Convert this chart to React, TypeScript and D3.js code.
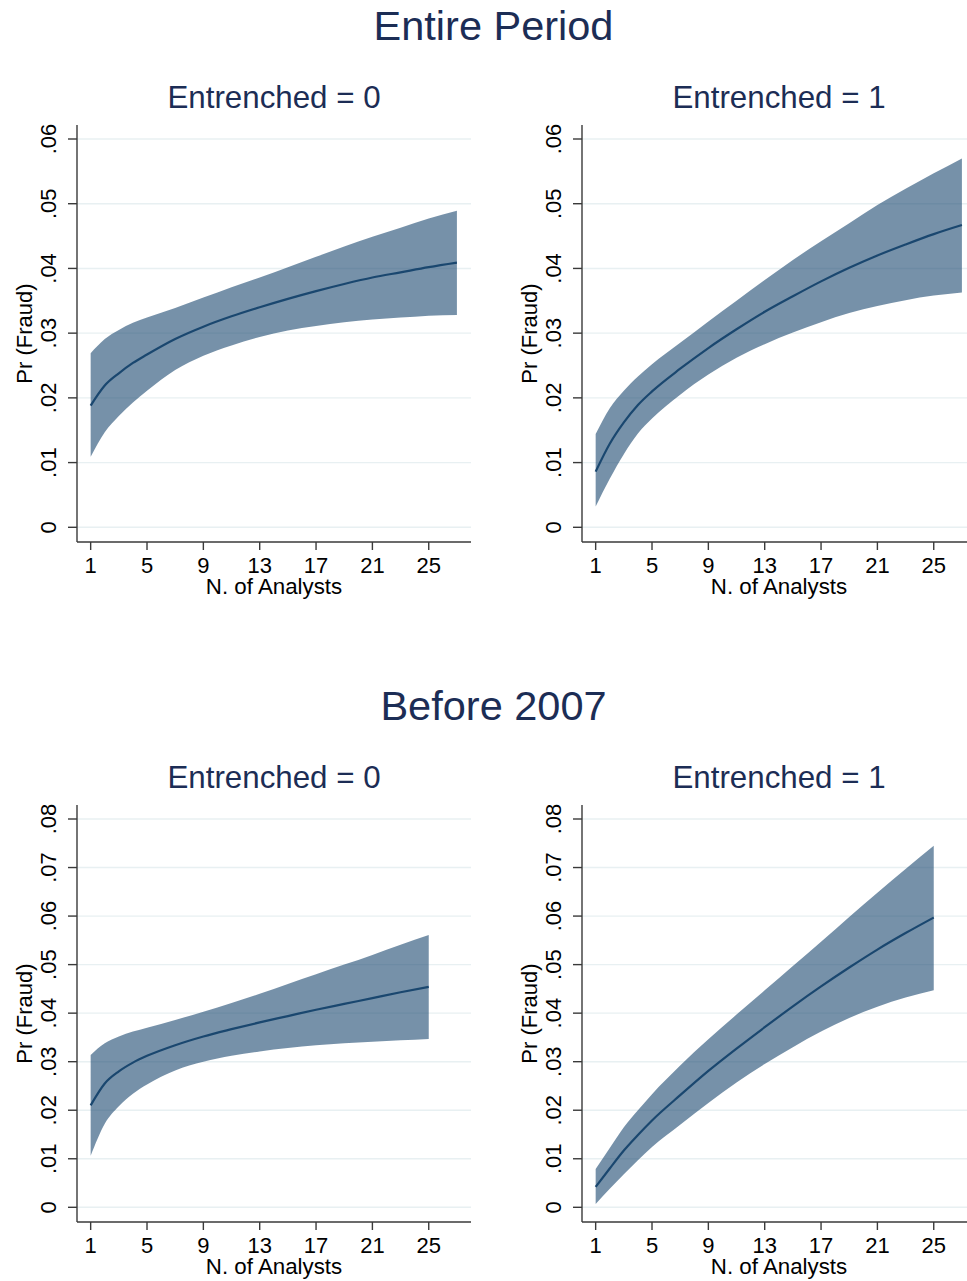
import React from 'react';
import * as d3 from 'd3';

// number of analysts (x values)
const nTop = [1, 2, 3, 4, 5, 7, 9, 11, 13, 15, 17, 19, 21, 23, 25, 27];
const nBottom = [1, 2, 3, 4, 5, 7, 9, 11, 13, 15, 17, 19, 21, 23, 25];

// Entire Period, Entrenched = 0
const allE0Mean = [0.0188, 0.0219, 0.0238, 0.0254, 0.0267, 0.0291, 0.031, 0.0326, 0.034, 0.0353, 0.0365, 0.0376, 0.0386, 0.0394, 0.0402, 0.0409];
const allE0Upper = [0.0269, 0.0291, 0.0305, 0.0316, 0.0324, 0.0339, 0.0355, 0.0371, 0.0386, 0.0402, 0.0418, 0.0434, 0.0449, 0.0463, 0.0477, 0.0489];
const allE0Lower = [0.0109, 0.0147, 0.0172, 0.0193, 0.0211, 0.0243, 0.0265, 0.0281, 0.0294, 0.0304, 0.0311, 0.0317, 0.0321, 0.0324, 0.0327, 0.0328];

// Entire Period, Entrenched = 1
const allE1Mean = [0.0086, 0.0129, 0.0162, 0.0189, 0.021, 0.0245, 0.0277, 0.0306, 0.0333, 0.0357, 0.038, 0.0401, 0.042, 0.0437, 0.0453, 0.0467];
const allE1Upper = [0.0144, 0.0184, 0.0211, 0.0233, 0.0252, 0.0285, 0.0318, 0.035, 0.0382, 0.0413, 0.0442, 0.047, 0.0498, 0.0523, 0.0547, 0.057];
const allE1Lower = [0.0032, 0.0075, 0.0113, 0.0145, 0.0168, 0.0205, 0.0236, 0.0262, 0.0283, 0.0301, 0.0317, 0.0331, 0.0342, 0.0351, 0.0358, 0.0363];

// Before 2007, Entrenched = 0
const preE0Mean = [0.021, 0.0255, 0.028, 0.0298, 0.0312, 0.0334, 0.0352, 0.0367, 0.0381, 0.0394, 0.0407, 0.0419, 0.0431, 0.0443, 0.0454];
const preE0Upper = [0.0314, 0.0338, 0.0352, 0.0362, 0.037, 0.0386, 0.0403, 0.0421, 0.044, 0.046, 0.048, 0.05, 0.052, 0.0541, 0.0561];
const preE0Lower = [0.0106, 0.0172, 0.0208, 0.0234, 0.0253, 0.0282, 0.03, 0.0312, 0.0321, 0.0328, 0.0334, 0.0338, 0.0341, 0.0344, 0.0347];

// Before 2007, Entrenched = 1
const preE1Mean = [0.0042, 0.008, 0.0117, 0.0149, 0.0179, 0.0231, 0.0281, 0.0327, 0.0371, 0.0414, 0.0455, 0.0494, 0.0531, 0.0565, 0.0597];
const preE1Upper = [0.0079, 0.0122, 0.0165, 0.02, 0.0233, 0.0292, 0.0346, 0.0397, 0.0447, 0.0497, 0.0547, 0.0598, 0.0648, 0.0697, 0.0745];
const preE1Lower = [0.0007, 0.0038, 0.0068, 0.0097, 0.0124, 0.017, 0.0215, 0.0257, 0.0295, 0.033, 0.0362, 0.039, 0.0413, 0.0432, 0.0447];

const xTicks = [1, 5, 9, 13, 17, 21, 25];
const yTicksTop = [0, 0.01, 0.02, 0.03, 0.04, 0.05, 0.06];
const yTicksBottom = [0, 0.01, 0.02, 0.03, 0.04, 0.05, 0.06, 0.07, 0.08];

const sectionTitles = ['Entire Period', 'Before 2007'];
const panelTitles = ['Entrenched = 0', 'Entrenched = 1'];

const W = 967;
const H = 1281;
const FONT = '"Liberation Sans", Arial, Helvetica, sans-serif';
const navy = '#1a476f';
const titleColor = '#1c2d55';
const axisColor = '#3a3a3a';
const gridColor = '#e8f0f2';

const fmtY = (d: number) => (d === 0 ? '0' : d3.format('.2f')(d).replace(/^0/, ''));

type PanelProps = {
  left: number;
  top: number;
  title: string;
  n: number[];
  mean: number[];
  upper: number[];
  lower: number[];
  yMax: number;
  yTicks: number[];
};

function Panel({ left, top, title, n, mean, upper, lower, yMax, yTicks }: PanelProps) {
  // plot region: axis box 394 wide, 417 tall
  const axisTop = top;
  const axisBottom = top + 417;
  const x = d3.scaleLinear().domain([0.03, 28]).range([left, left + 394]);
  const y = d3
    .scaleLinear()
    .domain([0, yMax])
    .range([axisBottom - 14.7, axisTop + 14]);

  const rows = n.map((v, i) => ({ n: v, m: mean[i], hi: upper[i], lo: lower[i] }));
  const area = d3
    .area<any>()
    .x((d) => x(d.n))
    .y0((d) => y(d.lo))
    .y1((d) => y(d.hi))
    .curve(d3.curveMonotoneX);
  const line = d3
    .line<any>()
    .x((d) => x(d.n))
    .y((d) => y(d.m))
    .curve(d3.curveMonotoneX);

  const midY = (axisTop + axisBottom) / 2;
  const midX = left + 197;

  return (
    <g>
      <text x={midX} y={axisTop - 17} textAnchor="middle" fontSize={31.3} fill={titleColor}>
        {title}
      </text>
      {yTicks.map((t) => (
        <line
          key={'g' + t}
          x1={left}
          x2={left + 394}
          y1={y(t)}
          y2={y(t)}
          stroke={gridColor}
          strokeWidth={1.4}
        />
      ))}
      <path d={area(rows) || ''} fill={navy} fillOpacity={0.6} />
      <path d={line(rows) || ''} fill="none" stroke={navy} strokeWidth={2.2} />
      <line x1={left} x2={left} y1={axisTop} y2={axisBottom} stroke={axisColor} strokeWidth={1.4} />
      <line x1={left} x2={left + 394} y1={axisBottom} y2={axisBottom} stroke={axisColor} strokeWidth={1.4} />
      {yTicks.map((t) => (
        <g key={'y' + t}>
          <line x1={left - 9} x2={left} y1={y(t)} y2={y(t)} stroke={axisColor} strokeWidth={1.4} />
          <text
            transform={`translate(${left - 21},${y(t)}) rotate(-90)`}
            textAnchor="middle"
            fontSize={22}
            fill="#000"
          >
            {fmtY(t)}
          </text>
        </g>
      ))}
      {xTicks.map((t) => (
        <g key={'x' + t}>
          <line x1={x(t)} x2={x(t)} y1={axisBottom} y2={axisBottom + 8} stroke={axisColor} strokeWidth={1.4} />
          <text x={x(t)} y={axisBottom + 31} textAnchor="middle" fontSize={22} fill="#000">
            {t}
          </text>
        </g>
      ))}
      <text x={midX} y={axisBottom + 51.5} textAnchor="middle" fontSize={22.3} fill="#000">
        N. of Analysts
      </text>
      <text
        transform={`translate(${left - 45},${midY}) rotate(-90)`}
        textAnchor="middle"
        fontSize={22}
        fill="#000"
      >
        Pr (Fraud)
      </text>
    </g>
  );
}

export default function App() {
  return (
    <svg
      width={W}
      height={H}
      style={{ position: 'absolute', left: 0, top: 0, background: '#fff' }}
      fontFamily={FONT}
    >
      <rect x={0} y={0} width={W} height={H} fill="#fff" />
      <text x={493.5} y={40} textAnchor="middle" fontSize={41.5} fill={titleColor}>
        {sectionTitles[0]}
      </text>
      <Panel left={77} top={125} title={panelTitles[0]} n={nTop} mean={allE0Mean} upper={allE0Upper} lower={allE0Lower} yMax={0.06} yTicks={yTicksTop} />
      <Panel left={582} top={125} title={panelTitles[1]} n={nTop} mean={allE1Mean} upper={allE1Upper} lower={allE1Lower} yMax={0.06} yTicks={yTicksTop} />

      <text x={493.5} y={720} textAnchor="middle" fontSize={41.5} fill={titleColor}>
        {sectionTitles[1]}
      </text>
      <Panel left={77} top={805} title={panelTitles[0]} n={nBottom} mean={preE0Mean} upper={preE0Upper} lower={preE0Lower} yMax={0.08} yTicks={yTicksBottom} />
      <Panel left={582} top={805} title={panelTitles[1]} n={nBottom} mean={preE1Mean} upper={preE1Upper} lower={preE1Lower} yMax={0.08} yTicks={yTicksBottom} />
    </svg>
  );
}
